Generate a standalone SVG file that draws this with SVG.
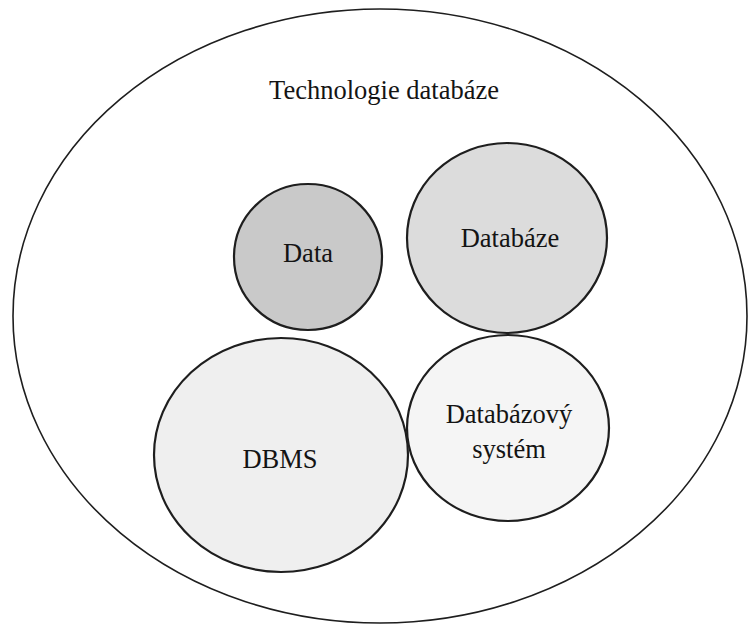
<svg xmlns="http://www.w3.org/2000/svg" width="749" height="628" viewBox="0 0 749 628">
  <style>
    .ring { stroke: #1e1e1e; stroke-width: 2.2; }
    .outer { fill: #ffffff; stroke: #1e1e1e; stroke-width: 1.6; }
    .lbl { font-size: 26.5px; fill: #141414; text-anchor: middle; }
  </style>
  <rect width="749" height="628" fill="#ffffff"/>
  <g id="technologie" font-family="Liberation Serif, Times New Roman, serif">
    <ellipse class="outer" cx="380" cy="316" rx="367" ry="307"/>
    <text class="lbl" x="384" y="99" font-family="Liberation Serif">Technologie databáze</text>
  </g>
  <g id="connectors"/>
  <g id="data">
    <ellipse class="ring" cx="308" cy="257" rx="74" ry="73" fill="#c9c9c9"/>
    <text class="lbl" x="308" y="262" font-family="Liberation Serif">Data</text>
  </g>
  <g id="databaze">
    <ellipse class="ring" cx="507" cy="238" rx="100" ry="95" fill="#dcdcdc"/>
    <text class="lbl" x="510" y="247" font-family="Liberation Serif">Databáze</text>
  </g>
  <g id="dbms">
    <ellipse class="ring" cx="281" cy="455" rx="127" ry="117" fill="#efefef"/>
    <text class="lbl" x="280" y="468" font-family="Liberation Serif">DBMS</text>
  </g>
  <g id="databazovy-system">
    <ellipse class="ring" cx="508" cy="428" rx="101" ry="93" fill="#f5f5f5"/>
    <text class="lbl" x="509" y="423" font-family="Liberation Serif">Databázový</text>
    <text class="lbl" x="509" y="458" font-family="Liberation Serif">systém</text>
  </g>
</svg>
